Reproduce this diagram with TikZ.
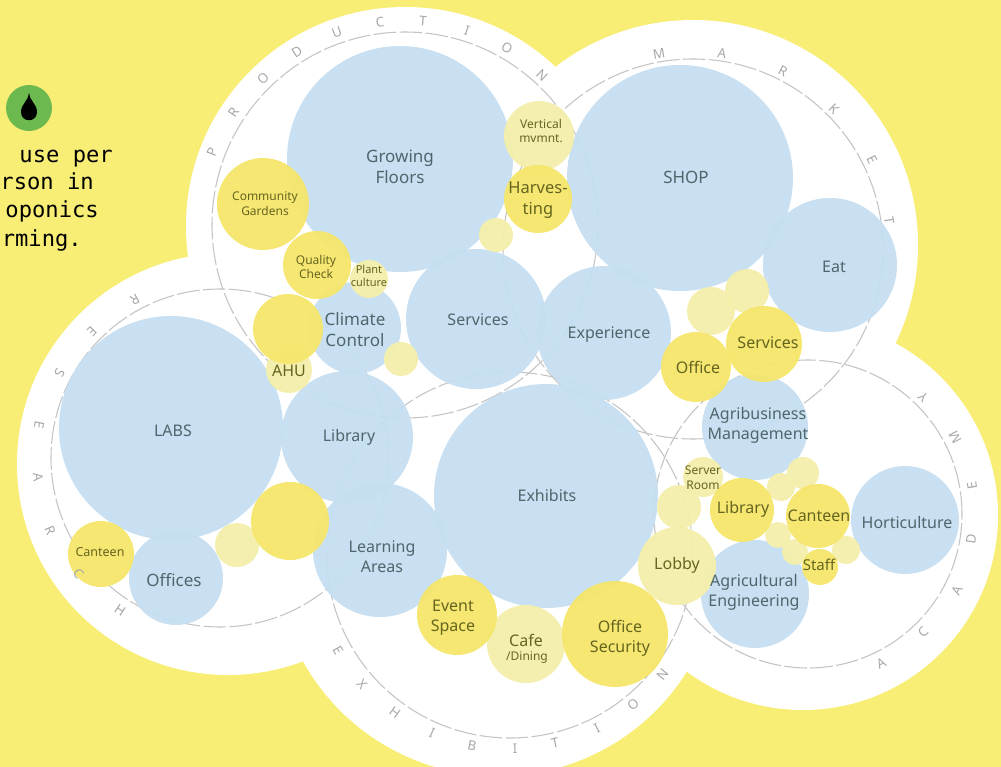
\documentclass[tikz,border=0pt]{standalone}
\usepackage{fontspec}
\setmainfont{Noto Sans}
\newfontfamily\monof{DejaVu Sans Mono}
\definecolor{bgyellow}{HTML}{F9EE75}
\definecolor{bubblue}{HTML}{C5DFF1}
\definecolor{bubyellow}{HTML}{F5E66A}
\definecolor{bubpale}{HTML}{F4EFAA}
\definecolor{dashgrey}{HTML}{C4C4C4}
\definecolor{lettergrey}{HTML}{A8A8A8}
\definecolor{bluetext}{HTML}{4F666C}
\definecolor{yellowtext}{HTML}{66651F}
\definecolor{dropgreen}{HTML}{6CB94F}
\tikzset{
  x=0.75pt,y=-0.75pt,
  cloud/.style={circle,fill=white,inner sep=0pt,minimum size=#1*1.5pt},
  ringline/.style={circle,draw=dashgrey,line width=0.8pt,dash pattern=on 17pt off 2.5pt,inner sep=0pt,minimum size=#1*1.5pt},
  bubble/.style={circle,inner sep=0pt,fill opacity=0.94},
  letterstyle/.style={text=lettergrey,inner sep=0pt,font=\fontsize{10}{12}\selectfont},
}
\newcommand{\lab}[6]{%
  \pgfmathsetmacro{\fsz}{#4*0.75}\pgfmathsetmacro{\lsz}{#4*0.75*1.24}%
  \node[text=#5,align=center,inner sep=0pt,font=\fontsize{\fsz}{\lsz}\selectfont] (#1) at (#2,#3) {#6};}
\begin{document}
\begin{tikzpicture}
\useasboundingbox (0,0) rectangle (1001,767);
\fill[bgyellow] (0,0) rectangle (1001,767);
% white clouds
\foreach \n/\x/\y/\r in {cProd/405/226/219,cMark/693/245/225,cRes/228/464/211,cExh/498/553/223,cAca/803/515/195}
  \node[cloud=\r] (\n) at (\x,\y) {};
% dashed rings
\foreach \n/\x/\y/\r in {rProd/405/225/193,rMark/693/249/190,rRes/220/458/169,rExh/510/555/183,rAca/808/514/154}
  \node[ringline=\r] (\n) at (\x,\y) {};
% blue bubbles
\foreach \n/\x/\y/\r in {bGrow/400/159/113,bShop/680/178/113,bEat/830/265/67,bLabs/171/428/112,bLib/347/437/66,bOff/176/578/47,bLearn/380/550/67,bExh/546/496/112,bServ/476/319/70,bExp/604/333/67,bClim/355/328/46,bAgri/755/427/53,bEng/755/594/54,bHort/905/520/54}
  \node[bubble,fill=bubblue,minimum size=\r*1.5pt] (\n) at (\x,\y) {};
% pale bubbles
\foreach \n/\x/\y/\r in {pPlant/369/279/19,pVert/539/136/35,pA/496/235/17,pAhu/289/370/23,pB/401/359/17,pC/237/545/22,pCafe/526/644/39,pLobby/677/566/39,pD/679/507/22,pServer/703/477/20,pE/803/473/16,pF/781/487/14,pG/778/535/13,pH/795/552/13,pI/846/550/14,pJ/711/311/24,pK/747/291/22}
  \node[bubble,fill=bubpale,minimum size=\r*1.5pt] (\n) at (\x,\y) {};
% yellow bubbles
\foreach \n/\x/\y/\r in {yComm/263/204/46,yQual/317/265/34,yHarv/538/199/34,yAhu/288/329/35,yBig/290/521/39,yCant/101/554/33,yEvent/457/615/40,ySec/615/634/53,yLib/742/510/32,yCan/818/516/32,yStaff/820/567/18,yServ/764/344/38,yOffice/696/367/35}
  \node[bubble,fill=bubyellow,minimum size=\r*1.5pt] (\n) at (\x,\y) {};
% ring letters, tops pointing away from the centre
\foreach \t/\x/\y [count=\i] in {P/212/152,R/234/112,O/263/78,D/297/52,U/337/32,C/380/22,T/423/21,I/467/31,O/507/48,N/542/75}{
  \pgfmathsetmacro{\rot}{atan2(405-\x,225-\y)}
  \node[letterstyle,rotate=\rot] (lp\i) at (\x,\y) {\t};}
\foreach \t/\x/\y [count=\i] in {M/659/54,A/722/53,R/783/71,K/834/109,E/872/160,T/889/220}{
  \pgfmathsetmacro{\rot}{atan2(693-\x,249-\y)}
  \node[letterstyle,rotate=\rot] (lm\i) at (\x,\y) {\t};}
% ring letters, tops pointing to the centre
\foreach \t/\x/\y [count=\i] in {R/135/300,E/92/331,S/60/373,E/40/425,A/38/477,R/51/530,C/79/574,H/120/610}{
  \pgfmathsetmacro{\rot}{atan2(\x-220,\y-458)}
  \node[letterstyle,rotate=\rot] (lr\i) at (\x,\y) {\t};}
\foreach \t/\x/\y [count=\i] in {E/338/650,X/362/684,H/395/713,I/432/733,B/472/746,I/515/749,T/555/743,I/597/728,O/633/705,N/663/675}{
  \pgfmathsetmacro{\rot}{atan2(\x-510,\y-555)}
  \node[letterstyle,rotate=\rot] (le\i) at (\x,\y) {\t};}
\foreach \t/\x/\y [count=\i] in {A/881/663,C/923/632,A/957/591,D/972/539,E/972/486,M/955/437,Y/923/397}{
  \pgfmathsetmacro{\rot}{atan2(\x-808,\y-514)}
  \node[letterstyle,rotate=\rot] (la\i) at (\x,\y) {\t};}
% labels on blue
\lab{tGrow}{400}{167}{17}{bluetext}{Growing\\Floors}
\lab{tShop}{686}{177}{17}{bluetext}{SHOP}
\lab{tEat}{834}{267}{16}{bluetext}{Eat}
\lab{tServ}{478}{320}{16}{bluetext}{Services}
\lab{tExp}{609}{335}{16}{bluetext}{Experience}
\lab{tClim}{355}{330}{17}{bluetext}{Climate\\Control}
\lab{tLabs}{173}{431}{16}{bluetext}{LABS}
\lab{tLib}{349}{437}{16}{bluetext}{Library}
\lab{tOff}{174}{580}{17}{bluetext}{Offices}
\lab{tLearn}{382}{557}{16}{bluetext}{Learning\\Areas}
\lab{tExh}{547}{495}{16}{bluetext}{Exhibits}
\lab{tAgri}{758}{425}{16}{bluetext}{Agribusiness\\Management}
\lab{tEng}{754}{592}{16}{bluetext}{Agricultural\\Engineering}
\lab{tHort}{907}{522}{16}{bluetext}{Horticulture}
% labels on yellow
\lab{tComm}{265}{204}{12}{yellowtext}{Community\\Gardens}
\lab{tQual}{316}{267}{12}{yellowtext}{Quality\\Check}
\lab{tPlant}{369}{276}{11}{yellowtext}{Plant\\culture}
\lab{tVert}{541}{131}{12}{yellowtext}{Vertical\\mvmnt.}
\lab{tHarv}{538}{200}{16.5}{yellowtext}{Harves-\\ting}
\lab{tAhu}{289}{371}{16}{yellowtext}{AHU}
\lab{tCant}{100}{552}{12.5}{yellowtext}{Canteen}
\lab{tEvent}{453}{618}{16}{yellowtext}{Event\\Space}
\lab{tCafe}{526}{640}{16}{yellowtext}{Cafe}
\lab{tDining}{527}{658}{12}{yellowtext}{/Dining}
\lab{tSec}{620}{638}{16}{yellowtext}{Office\\Security}
\lab{tLobby}{677}{565}{16}{yellowtext}{Lobby}
\lab{tServer}{703}{478}{12}{yellowtext}{Server\\Room}
\lab{tLibY}{743}{509}{16}{yellowtext}{Library}
\lab{tCan}{819}{516}{16}{yellowtext}{Canteen}
\lab{tStaff}{819}{565}{15}{yellowtext}{Staff}
\lab{tOffice}{698}{367}{16}{yellowtext}{Office}
\lab{tServY}{768}{343}{16}{yellowtext}{Services}
% water icon
\node[circle,fill=dropgreen,inner sep=0pt,minimum size=34.5pt] (icon) at (29,108) {};
\fill[black] (29,93) .. controls (29,100) and (21,104) .. (21,112) .. controls (21,123) and (37,123) .. (37,112) .. controls (37,104) and (29,100) .. (29,93) -- cycle;
% caption
\foreach \t/\xe/\yb [count=\i] in {use per/113/162,rson in/94/190,oponics/99/218,rming./82/246}
  \node[anchor=base east,inner sep=0pt,text=black,font=\monof\fontsize{16.6}{20}\selectfont] (cap\i) at (\xe,\yb) {\t};
\end{tikzpicture}
\end{document}
